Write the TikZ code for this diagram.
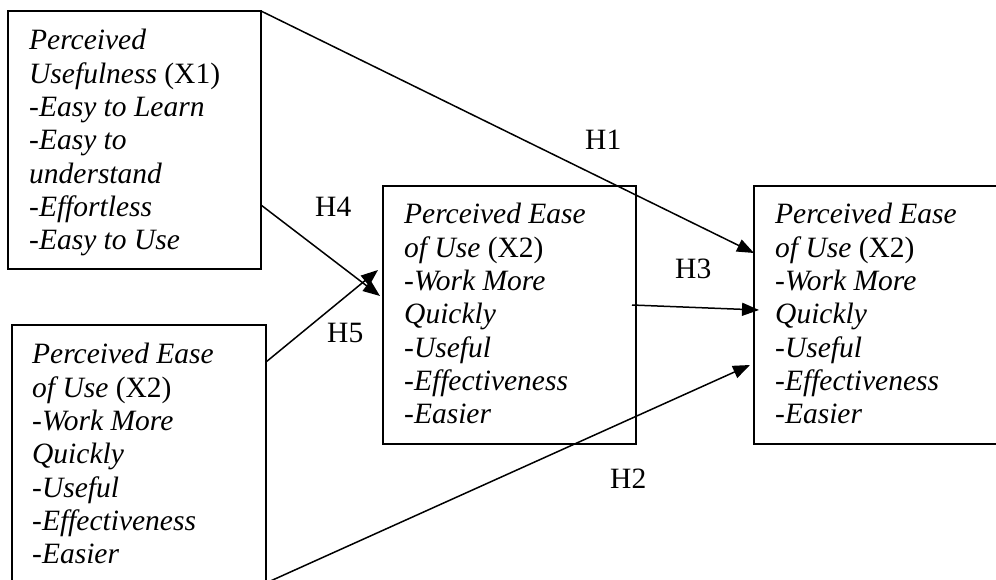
\documentclass[tikz,border=0pt]{standalone}
\usepackage{fontspec}
\setmainfont{Liberation Serif}
\usetikzlibrary{arrows.meta}
\tikzset{
  box/.style={draw, line width=1.6pt, rectangle, anchor=north west, inner sep=0pt, outer sep=0pt},
  boxtext/.style={anchor=north west, inner sep=0pt, align=left, font=\fontsize{29.5pt}{33.3pt}\selectfont\itshape},
  hlabel/.style={anchor=base west, inner sep=0pt, font=\fontsize{29.5pt}{33.3pt}\selectfont},
  conn/.style={line width=1.5pt, -{Triangle[length=17pt,width=13pt]}}
}
\begin{document}
\begin{tikzpicture}[x=1pt,y=-1pt]
\useasboundingbox (0,0) rectangle (996,580);
\clip (0,0) rectangle (996,580);
% boxes
\node[box, minimum width=253pt, minimum height=258pt] (b1) at (8,11) {};
\node[box, minimum width=254pt, minimum height=258pt] (b2) at (12,325) {};
\node[box, minimum width=253pt, minimum height=258pt] (b3) at (383,186) {};
\node[box, minimum width=262pt, minimum height=258pt] (b4) at (754,186) {};
% texts
\node[boxtext] (t1) at (29,29.2) {Perceived\\Usefulness \textup{(X1)}\\-Easy to Learn\\-Easy to\\understand\\-Effortless\\-Easy to Use};
\node[boxtext] (t2) at (32,343.2) {Perceived Ease\\of Use \textup{(X2)}\\-Work More\\Quickly\\-Useful\\-Effectiveness\\-Easier};
\node[boxtext] (t3) at (404,203.2) {Perceived Ease\\of Use \textup{(X2)}\\-Work More\\Quickly\\-Useful\\-Effectiveness\\-Easier};
\node[boxtext] (t4) at (775,203.2) {Perceived Ease\\of Use \textup{(X2)}\\-Work More\\Quickly\\-Useful\\-Effectiveness\\-Easier};
% connectors
\draw[conn] (b1.north east) -- ([yshift=-67pt]b4.north west);
\draw[conn] ([yshift=-194pt]b1.north east) -- ([xshift=-3pt,yshift=-110pt]b3.north west);
\draw[conn] ([yshift=-37pt]b2.north east) -- ([xshift=-5pt,yshift=-84pt]b3.north west);
\draw[conn] ([xshift=-4pt,yshift=-119pt]b3.north east) -- ([xshift=5pt,yshift=-124pt]b4.north west);
\draw[conn] (b2.south east) -- ([xshift=-4pt,yshift=-179pt]b4.north west);
% labels
\node[hlabel] (h1) at (585,150) {H1};
\node[hlabel] (h4) at (315,217) {H4};
\node[hlabel] (h5) at (327,342) {H5};
\node[hlabel] (h3) at (675,278) {H3};
\node[hlabel] (h2) at (610,488) {H2};
\end{tikzpicture}
\end{document}
